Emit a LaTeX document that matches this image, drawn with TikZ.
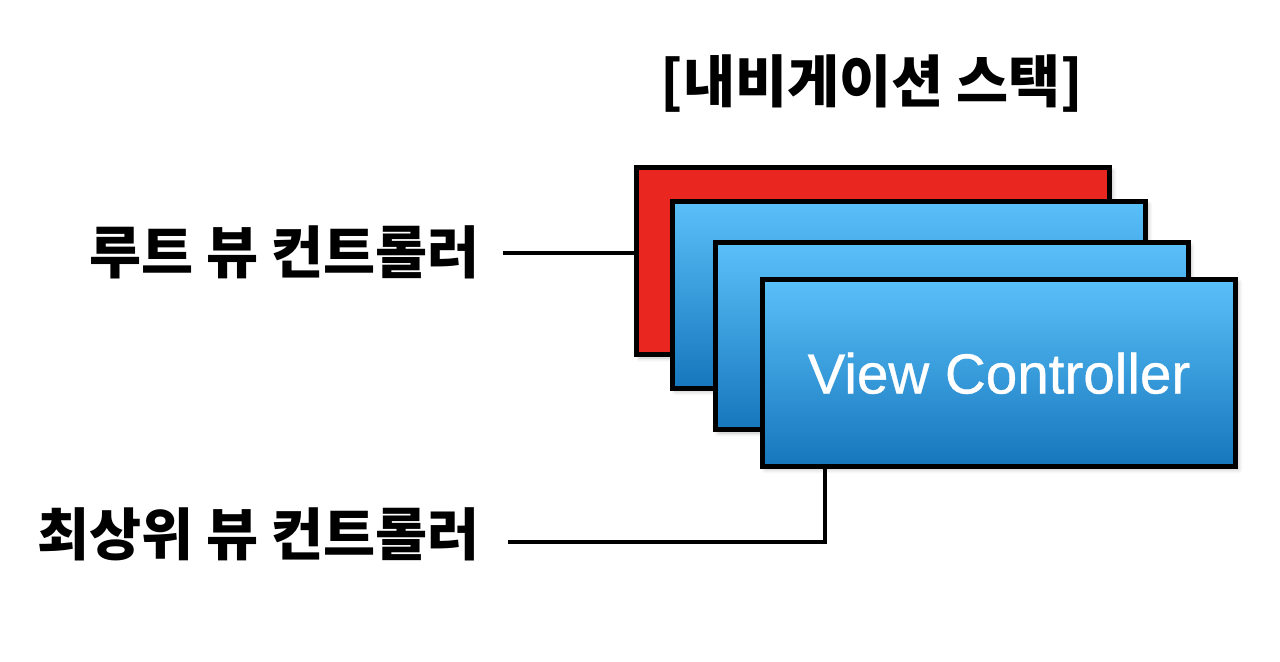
\documentclass[tikz,border=0pt]{standalone}
\usepackage{fontspec}
\setmainfont{Liberation Sans}
\newfontfamily\krfont{Noto Sans CJK KR}
\newfontfamily\vcfont[FakeBold=0.6]{Liberation Sans}
\usetikzlibrary{shadows.blur}
\definecolor{vcred}{RGB}{233,38,32}
\definecolor{vctop}{RGB}{90,192,249}
\definecolor{vcbottom}{RGB}{22,118,188}

\begin{document}
\begin{tikzpicture}
		[x=0.5pt,y=-0.5pt,
		vcbox/.style={rectangle,draw=black,line width=2.5pt,minimum width=236.5pt,minimum height=93.5pt,
			blur shadow={shadow xshift=1.5pt,shadow yshift=-1.5pt,shadow blur steps=6,shadow opacity=25}},
		vcblue/.style={vcbox,top color=vctop,bottom color=vcbottom},
		label/.style={font=\krfont\bfseries\fontsize{28.3pt}{28.3pt}\selectfont,inner sep=0pt},
		link/.style={line width=2pt}]
		\useasboundingbox (0,0) rectangle (1280,662);

		\node[label] (title) at (872,84) {[내비게이션 스택]};

		\node[vcbox,fill=vcred] (vc1) at (873,261.5) {};
		\node[vcblue] (vc2) at (909,295) {};
		\node[vcblue] (vc3) at (951.5,336.5) {};
		\node[vcblue,text=white,text depth=0pt,font=\vcfont\fontsize{28.3pt}{28.3pt}\selectfont] (vc4) at (999,373) {View Controller};

		\node[label,anchor=east] (root) at (480,252) {루트 뷰 컨트롤러};
		\node[label,anchor=east] (top) at (480,534) {최상위 뷰 컨트롤러};

		\coordinate (rootend) at (503,253);
		\coordinate (topend) at (508,542);
		\draw[link] (rootend) -- (rootend -| vc1.west);
		\draw[link] (topend) -| ([xshift=32.5pt]vc4.south west);

	\end{tikzpicture}
\end{document}
